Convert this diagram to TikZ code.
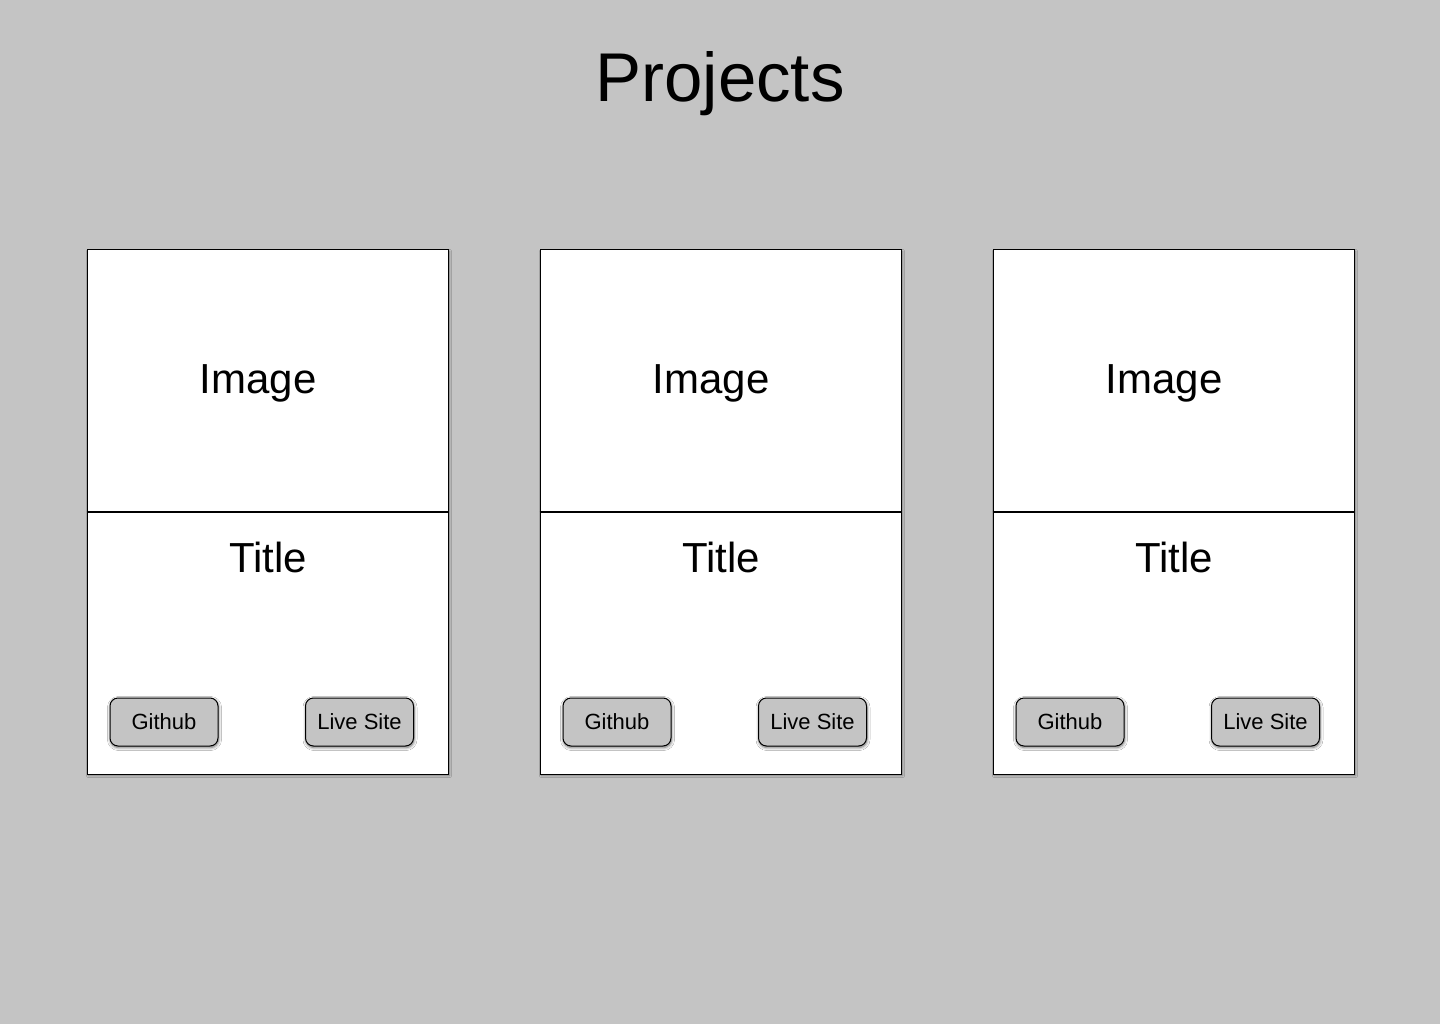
\documentclass[tikz,border=0pt]{standalone}
\usepackage{fontspec}
\setmainfont{Liberation Sans}
\usetikzlibrary{shadows.blur}
\definecolor{pagebg}{HTML}{C4C4C4}
\tikzset{
  x=1pt, y=-1pt,
  card/.style={draw=black, line width=1pt, fill=white,
    blur shadow={shadow xshift=1.5pt, shadow yshift=-1.5pt, shadow blur steps=5, shadow opacity=35}},
  divider/.style={draw=black, line width=1.6pt},
  bigtext/.style={font=\fontsize{42}{50}\selectfont, inner sep=0pt},
  btn/.style={draw=black, line width=1pt, fill=pagebg, rounded corners=8pt,
    minimum width=108pt, minimum height=48pt, inner sep=0pt,
    font=\fontsize{22}{26}\selectfont,
    blur shadow={shadow xshift=0.5pt, shadow yshift=-1.5pt, shadow blur radius=3pt, shadow blur steps=6, shadow opacity=60}},
}
\begin{document}
\begin{tikzpicture}
\fill[pagebg] (0,0) rectangle (1440,1024);
\useasboundingbox (0,0) rectangle (1440,1024);
\node[font=\fontsize{69}{80}\selectfont, inner sep=0pt] (heading) at (720,84) {Projects};
\foreach \i/\dx in {1/0,2/453,3/906}{
  \begin{scope}[xshift=\dx pt]
    \node[card, minimum width=361pt, minimum height=524pt, inner sep=0pt] (card\i) at (267.5,512) {};
    \draw[divider] (card\i.west |- 0,512) -- (card\i.east |- 0,512);
    \node[bigtext] (image\i) at (258,383.5) {Image};
    \node[bigtext] (title\i) at (268,557.5) {Title};
    \node[btn] (github\i) at (164,722) {Github};
    \node[btn] (live\i) at (359.5,722) {Live Site};
  \end{scope}
}
\end{tikzpicture}
\end{document}
